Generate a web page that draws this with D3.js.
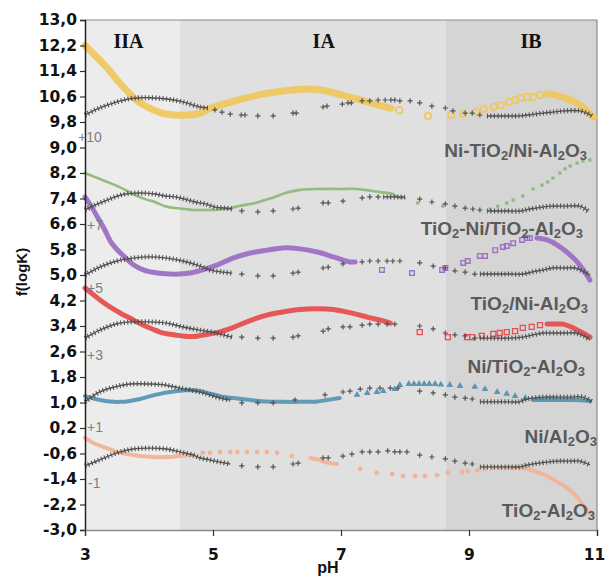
<!DOCTYPE html>
<html>
<head>
<meta charset="utf-8">
<script src="https://cdn.jsdelivr.net/npm/d3@7"></script>
<style>
  body { margin: 0; background: #fff; }
  svg { display: block; }
</style>
</head>
<body>
<svg id="chart" width="605" height="577"></svg>
<script>
// ---- axis ticks and zones ----
const xTicks = [3, 5, 7, 9, 11];
const yTicks = [-3.0, -2.2, -1.4, -0.6, 0.2, 1.0, 1.8, 2.6, 3.4, 4.2, 5.0, 5.8, 6.6, 7.4, 8.2, 9.0, 9.8, 10.6, 11.4, 12.2, 13.0];
const zoneNames = ["IIA", "IA", "IB"];
const zoneEdges = [3, 4.48, 8.64, 11];

// ---- sample names (digit after "_" is a subscript) and vertical shifts ----
const sampleNames = ["Ni-TiO_2/Ni-Al_2O_3", "TiO_2-Ni/TiO_2-Al_2O_3", "TiO_2/Ni-Al_2O_3", "Ni/TiO_2-Al_2O_3", "Ni/Al_2O_3", "TiO_2-Al_2O_3"];
const shiftLabels = ["+10", "+7", "+5", "+3", "+1", "-1"];

// ---- measured f(logK) vs pH : continuous runs and isolated points ----
// Ni-TiO2/Ni-Al2O3 (+10)
const s1Runs = [
  [[3.00,12.20],[3.10,12.00],[3.20,11.80],[3.30,11.59],[3.40,11.37],[3.50,11.12],[3.60,10.90],[3.70,10.68],[3.80,10.49],[3.90,10.36],[4.00,10.24],[4.20,10.08],[4.40,10.02],[4.60,10.02],[4.80,10.08],[4.95,10.22],[5.10,10.32],[5.30,10.44],[5.58,10.58],[5.84,10.70],[6.09,10.77],[6.36,10.83],[6.55,10.83],[6.75,10.78],[6.90,10.71],[7.14,10.58],[7.41,10.43],[7.60,10.32],[7.78,10.23]],
  [[10.22,10.68],[10.31,10.66],[10.42,10.60],[10.50,10.55],[10.58,10.49],[10.66,10.42],[10.73,10.33],[10.81,10.20],[10.89,10.04],[10.95,9.96]]
];
const s1Dots = [[7.91,10.17],[8.36,9.99],[8.72,10.02],[8.91,10.05],[9.11,10.11],[9.23,10.20],[9.39,10.27],[9.50,10.33],[9.63,10.43],[9.72,10.49],[9.81,10.55],[9.91,10.58],[10.00,10.58],[10.11,10.65]];
const s1FitRuns = [
  [[3.00,10.02],[3.23,10.24],[3.50,10.43],[3.70,10.53],[3.86,10.56],[4.02,10.56],[4.28,10.52],[4.53,10.43],[4.80,10.27],[4.92,10.24]],
  [[9.28,9.99],[9.50,9.99],[9.72,9.99],[9.84,10.00],[10.00,10.04],[10.16,10.08],[10.31,10.11],[10.50,10.15],[10.73,10.15],[10.85,10.07],[10.92,9.99]]
];
const s1FitDots = [[5.03,10.18],[5.14,10.11],[5.27,10.05],[5.44,10.02],[5.50,10.02],[5.70,9.99],[5.94,9.99],[6.25,10.08],[6.30,10.08],[6.72,10.27],[6.78,10.30],[7.02,10.36],[7.11,10.40],[7.16,10.40],[7.33,10.46],[7.45,10.46],[7.58,10.49],[7.69,10.49],[7.78,10.49],[7.84,10.49],[7.92,10.46],[8.08,10.46],[8.23,10.40],[8.42,10.30],[8.63,10.24],[8.75,10.15],[8.94,10.08],[9.05,10.08],[9.17,10.02]];

// TiO2-Ni/TiO2-Al2O3 (+7)
const s2Runs = [
  [[3.00,8.20],[3.16,8.07],[3.31,7.95],[3.47,7.82],[3.63,7.67],[3.78,7.51],[3.94,7.38],[4.09,7.29],[4.25,7.16],[4.41,7.10],[4.56,7.07],[4.72,7.04],[4.88,7.04],[5.03,7.04],[5.19,7.07],[5.34,7.13],[5.50,7.20],[5.66,7.26],[5.81,7.35],[5.97,7.45],[6.13,7.57],[6.36,7.67],[6.67,7.70],[7.00,7.70],[7.25,7.70],[7.45,7.65],[7.61,7.60],[7.81,7.54],[7.88,7.45],[8.00,7.42]]
];
const s2Dots = [[8.20,7.26],[8.59,7.16],[9.33,7.07],[9.45,7.16],[9.59,7.26],[9.69,7.35],[9.84,7.48],[10.00,7.70],[10.14,7.82],[10.23,7.92],[10.31,8.04],[10.42,8.20],[10.50,8.33],[10.58,8.42],[10.69,8.51],[10.78,8.58],[10.89,8.61]];
const s2FitRuns = [
  [[3.00,7.04],[3.16,7.20],[3.31,7.32],[3.47,7.45],[3.63,7.54],[3.78,7.57],[3.94,7.57],[4.09,7.54],[4.25,7.48],[4.41,7.45],[4.56,7.38],[4.72,7.29],[4.88,7.23],[5.03,7.13],[5.19,7.10],[5.30,7.07]],
  [[7.66,7.45],[7.72,7.45],[7.81,7.45],[7.92,7.45],[8.00,7.45]],
  [[9.28,7.01],[9.50,7.01],[9.80,7.01],[9.95,7.07],[10.14,7.13],[10.27,7.16],[10.50,7.16],[10.73,7.16],[10.86,7.01]]
];
const s2FitDots = [[5.45,7.01],[5.70,6.98],[5.94,7.01],[6.25,7.07],[6.33,7.10],[6.72,7.26],[6.80,7.26],[7.03,7.32],[7.33,7.42],[7.45,7.45],[7.58,7.45],[8.23,7.38],[8.42,7.29],[8.63,7.23],[8.78,7.16],[8.94,7.10],[9.06,7.07],[9.17,7.04]];

// TiO2/Ni-Al2O3 (+5)
const s3Runs = [
  [[3.00,7.45],[3.10,7.15],[3.20,6.80],[3.30,6.45],[3.40,6.05],[3.50,5.80],[3.60,5.60],[3.75,5.33],[3.91,5.16],[4.13,5.06],[4.33,5.03],[4.48,5.03],[4.64,5.06],[4.80,5.14],[5.06,5.31],[5.31,5.53],[5.58,5.69],[5.84,5.78],[6.09,5.85],[6.36,5.82],[6.63,5.72],[6.88,5.57],[7.14,5.41],[7.22,5.41]],
  [[10.06,6.16],[10.22,6.10],[10.38,5.94],[10.53,5.72],[10.69,5.41],[10.81,5.09],[10.89,4.84]]
];
const s3Dots = [[7.64,5.16],[8.11,5.06],[8.58,5.16],[8.63,5.22],[8.91,5.38],[8.98,5.44],[9.17,5.60],[9.25,5.60],[9.41,5.78],[9.53,5.88],[9.59,5.91],[9.69,6.00],[9.83,6.10],[9.91,6.16],[9.95,6.16]];
const s3FitRuns = [
  [[3.00,5.00],[3.23,5.25],[3.50,5.44],[3.75,5.53],[4.02,5.57],[4.28,5.53],[4.53,5.44],[4.80,5.28],[4.95,5.16],[5.16,5.09],[5.30,5.06]],
  [[9.17,5.03],[9.40,5.03],[9.64,5.03],[9.84,5.03],[10.00,5.10],[10.16,5.16],[10.30,5.22],[10.50,5.22],[10.66,5.22],[10.80,5.10],[10.89,5.00]]
];
const s3FitDots = [[5.45,5.03],[5.70,4.97],[5.94,4.97],[6.25,5.06],[6.33,5.09],[6.72,5.22],[6.80,5.25],[7.03,5.35],[7.33,5.41],[7.45,5.44],[7.58,5.44],[7.72,5.44],[7.81,5.44],[7.92,5.44],[8.23,5.38],[8.44,5.28],[8.63,5.22],[8.78,5.13],[8.94,5.09],[9.09,5.03]];

// Ni/TiO2-Al2O3 (+3)
const s4Runs = [
  [[3.00,4.59],[3.12,4.40],[3.23,4.22],[3.35,4.05],[3.47,3.90],[3.58,3.77],[3.70,3.65],[3.82,3.52],[3.94,3.40],[4.06,3.30],[4.17,3.21],[4.30,3.15],[4.41,3.12],[4.55,3.08],[4.70,3.07],[4.80,3.10],[5.06,3.19],[5.31,3.35],[5.58,3.57],[5.84,3.74],[6.09,3.84],[6.36,3.92],[6.63,3.94],[6.88,3.92],[7.14,3.82],[7.41,3.68],[7.66,3.56],[7.77,3.49]],
  [[10.22,3.46],[10.35,3.46],[10.47,3.46],[10.63,3.34],[10.78,3.18],[10.89,3.05]]
];
const s4Dots = [[8.23,3.21],[8.67,3.05],[8.97,3.05],[9.05,3.05],[9.20,3.09],[9.38,3.15],[9.48,3.18],[9.59,3.21],[9.72,3.24],[9.84,3.34],[9.98,3.37],[10.11,3.43]];
const s4FitRuns = [
  [[3.00,3.02],[3.23,3.27],[3.50,3.47],[3.75,3.53],[4.02,3.53],[4.28,3.49],[4.53,3.37],[4.80,3.27],[5.06,3.18],[5.16,3.12],[5.30,3.05]],
  [[9.17,3.02],[9.40,3.02],[9.64,3.02],[9.84,3.05],[10.00,3.12],[10.16,3.18],[10.31,3.18],[10.50,3.18],[10.66,3.18],[10.80,3.08],[10.89,2.96]]
];
const s4FitDots = [[5.45,3.05],[5.70,3.02],[5.94,3.02],[6.25,3.05],[6.33,3.09],[6.72,3.24],[6.80,3.31],[7.03,3.37],[7.14,3.37],[7.33,3.43],[7.45,3.46],[7.58,3.46],[7.72,3.46],[7.84,3.46],[8.23,3.40],[8.44,3.31],[8.63,3.18],[8.78,3.12],[8.94,3.09],[9.09,3.02]];

// Ni/Al2O3 (+1)
const s5Runs = [
  [[3.00,1.20],[3.12,1.13],[3.23,1.08],[3.39,1.03],[3.55,1.02],[3.70,1.05],[3.86,1.11],[4.02,1.20],[4.17,1.27],[4.33,1.33],[4.48,1.37],[4.64,1.39],[4.80,1.36],[4.95,1.28],[5.11,1.20],[5.31,1.14],[5.58,1.08],[5.84,1.03],[6.09,1.02],[6.36,1.02],[6.63,1.03],[6.78,1.08],[6.98,1.14]],
  [[10.00,1.08],[10.30,1.08],[10.60,1.08],[10.89,1.05]]
];
const s5Dots = [[7.25,1.24],[7.41,1.30],[7.56,1.33],[7.66,1.36],[7.84,1.42],[7.92,1.55],[8.06,1.58],[8.14,1.58],[8.22,1.58],[8.30,1.58],[8.38,1.58],[8.47,1.58],[8.56,1.56],[8.70,1.55],[8.86,1.52],[9.09,1.49],[9.25,1.42],[9.44,1.33],[9.59,1.27],[9.72,1.20],[9.88,1.14]];
const s5FitRuns = [
  [[3.00,1.02],[3.23,1.33],[3.47,1.49],[3.70,1.58],[4.02,1.58],[4.25,1.55],[4.48,1.45],[4.80,1.33],[4.95,1.24],[5.11,1.14],[5.27,1.08]],
  [[9.17,1.02],[9.40,1.02],[9.64,1.02],[9.78,1.02],[9.91,1.11],[10.16,1.17],[10.38,1.17],[10.58,1.17],[10.78,1.17],[10.92,1.02]]
];
const s5FitDots = [[5.45,0.99],[5.70,0.99],[5.94,0.99],[6.28,1.08],[6.75,1.24],[7.03,1.33],[7.14,1.36],[7.30,1.42],[7.45,1.45],[7.61,1.45],[7.77,1.45],[7.89,1.45],[8.23,1.36],[8.44,1.30],[8.63,1.24],[8.78,1.17],[8.94,1.14],[9.05,1.11]];

// TiO2-Al2O3 (-1)
const s6Runs = [
  [[3.00,-0.11],[3.13,-0.27],[3.34,-0.43],[3.50,-0.55],[3.66,-0.62],[3.86,-0.68],[4.06,-0.71],[4.28,-0.71],[4.48,-0.68],[4.69,-0.65]],
  [[6.52,-0.74],[6.59,-0.77],[6.67,-0.80],[6.75,-0.87],[6.94,-0.93]],
  [[9.48,-1.05],[9.64,-1.05],[9.80,-1.05],[9.91,-1.08],[10.06,-1.18],[10.22,-1.31],[10.38,-1.49],[10.53,-1.68],[10.69,-1.96],[10.78,-2.22],[10.94,-2.53]]
];
const s6Dots = [[4.84,-0.58],[4.95,-0.58],[5.11,-0.55],[5.27,-0.55],[5.38,-0.55],[5.53,-0.55],[5.69,-0.55],[5.84,-0.55],[6.00,-0.58],[6.23,-0.68],[7.30,-1.08],[7.56,-1.21],[7.80,-1.24],[7.97,-1.31],[8.16,-1.31],[8.31,-1.31],[8.50,-1.28],[8.67,-1.21],[8.89,-1.18],[8.98,-1.15],[9.13,-1.12],[9.25,-1.08],[9.38,-1.05]];
const s6FitRuns = [
  [[3.00,-0.99],[3.23,-0.80],[3.50,-0.58],[3.75,-0.46],[4.02,-0.43],[4.28,-0.46],[4.48,-0.55],[4.69,-0.65],[4.80,-0.74],[4.95,-0.80],[5.11,-0.87],[5.27,-0.93]],
  [[9.17,-1.02],[9.40,-1.02],[9.64,-1.02],[9.80,-1.02],[9.91,-0.96],[10.22,-0.87],[10.38,-0.84],[10.58,-0.84],[10.73,-0.84],[10.89,-0.96]]
];
const s6FitDots = [[5.45,-0.99],[5.70,-1.02],[5.94,-1.02],[6.25,-0.93],[6.33,-0.90],[6.72,-0.74],[6.80,-0.74],[7.03,-0.68],[7.17,-0.62],[7.33,-0.55],[7.45,-0.55],[7.58,-0.55],[7.73,-0.52],[7.84,-0.55],[7.92,-0.55],[8.03,-0.55],[8.23,-0.65],[8.42,-0.71],[8.63,-0.77],[8.78,-0.84],[8.94,-0.90],[9.05,-0.93]];

// ---- drawing ----
const svg = d3.select("#chart");
const x = d3.scaleLinear().domain([3, 11]).range([85, 597]);
const y = d3.scaleLinear().domain([-3, 13]).range([530, 20]);

// zone backgrounds
const zoneFills = ["#ececec", "#e0e0e0", "#d5d5d5"];
svg.append("g").selectAll("rect").data(zoneNames).join("rect")
  .attr("x", (d, i) => x(zoneEdges[i]))
  .attr("y", y(13))
  .attr("width", (d, i) => x(zoneEdges[i + 1]) - x(zoneEdges[i]))
  .attr("height", y(-3) - y(13))
  .attr("fill", (d, i) => zoneFills[i]);

// frame on top and right
svg.append("path")
  .attr("d", `M${x(3)},${y(13)}H${x(11)}V${y(-3)}`)
  .attr("fill", "none").attr("stroke", "#8a8a8a").attr("stroke-width", 1.2);

// zone titles
const zoneLabelX = [3.68, 6.73, 9.97];
svg.append("g").selectAll("text").data(zoneNames).join("text")
  .attr("x", (d, i) => x(zoneLabelX[i]))
  .attr("y", 48)
  .attr("text-anchor", "middle")
  .attr("font-family", "'Liberation Serif', 'Times New Roman', serif")
  .attr("font-weight", "bold")
  .attr("font-size", 20)
  .attr("fill", "#111")
  .text(d => d);

const line = d3.line().x(d => x(d[0])).y(d => y(d[1])).curve(d3.curveCatmullRom.alpha(0.5));

const styles = [
  { color: "#efc75a", band: 7, opacity: 0.9, marker: "ring" },
  { color: "#8cba79", band: 2.6, opacity: 0.95, marker: "square" },
  { color: "#9d70c4", band: 5, opacity: 0.95, marker: "xmark" },
  { color: "#e64f4f", band: 5, opacity: 0.95, marker: "box" },
  { color: "#5b97b4", band: 4, opacity: 0.95, marker: "tri" },
  { color: "#f0b497", band: 4, opacity: 0.95, marker: "dot" }
];

const measuredRuns = [s1Runs, s2Runs, s3Runs, s4Runs, s5Runs, s6Runs];
const measuredDots = [s1Dots, s2Dots, s3Dots, s4Dots, s5Dots, s6Dots];
const fitRuns = [s1FitRuns, s2FitRuns, s3FitRuns, s4FitRuns, s5FitRuns, s6FitRuns];
const fitDots = [s1FitDots, s2FitDots, s3FitDots, s4FitDots, s5FitDots, s6FitDots];

function drawMarker(g, pts, st) {
  const c = st.color;
  const sel = g.selectAll(null).data(pts).join("path")
    .attr("transform", d => `translate(${x(d[0])},${y(d[1])})`);
  if (st.marker === "ring") {
    sel.attr("d", d3.symbol(d3.symbolCircle, 34)()).attr("fill", "none").attr("stroke", c).attr("stroke-width", 1.6);
  } else if (st.marker === "square") {
    sel.attr("d", "M-1.6,-1.6h3.2v3.2h-3.2z").attr("fill", c);
  } else if (st.marker === "xmark") {
    sel.attr("d", "M-2.3,-2.3h4.6v4.6h-4.6z").attr("fill", "none").attr("stroke", c).attr("stroke-width", 1.4);
  } else if (st.marker === "box") {
    sel.attr("d", "M-2.5,-2.5h5v5h-5z").attr("fill", "none").attr("stroke", c).attr("stroke-width", 1.3);
  } else if (st.marker === "tri") {
    sel.attr("d", d3.symbol(d3.symbolTriangle, 20)()).attr("fill", c);
  } else {
    sel.attr("d", d3.symbol(d3.symbolCircle, 18)()).attr("fill", c);
  }
}

// measured curves
measuredRuns.forEach((runs, i) => {
  const st = styles[i];
  const g = svg.append("g");
  runs.forEach(run => {
    g.append("path").datum(run).attr("d", line)
      .attr("fill", "none").attr("stroke", st.color)
      .attr("stroke-width", st.band).attr("stroke-linecap", "round")
      .attr("stroke-opacity", st.opacity);
  });
  drawMarker(g, measuredDots[i], st);
});

// model curves drawn as chains of "+" marks
const fitColor = "#525252";
fitRuns.forEach((runs, i) => {
  const g = svg.append("g");
  runs.forEach(run => {
    g.append("path").datum(run).attr("d", line)
      .attr("fill", "none").attr("stroke", fitColor).attr("stroke-width", 1.4);
    g.append("path").datum(run).attr("d", line)
      .attr("fill", "none").attr("stroke", fitColor).attr("stroke-width", 5)
      .attr("stroke-dasharray", "1.1,2.4");
  });
  g.selectAll(null).data(fitDots[i]).join("path")
    .attr("transform", d => `translate(${x(d[0])},${y(d[1])})`)
    .attr("d", "M-2.6,0H2.6M0,-2.6V2.6")
    .attr("stroke", fitColor).attr("stroke-width", 1.2).attr("fill", "none");
});

// axes
const tickFont = "'DejaVu Sans', Verdana, sans-serif";
const yAxis = svg.append("g").attr("transform", `translate(${x(3)},0)`)
  .call(d3.axisLeft(y).tickValues(yTicks).tickSize(5).tickPadding(3)
    .tickFormat(d => d.toFixed(1).replace(".", ",")));
yAxis.select(".domain").attr("stroke", "#222").attr("stroke-width", 1.5);
yAxis.selectAll(".tick line").attr("stroke", "#333").attr("stroke-width", 1.2);
yAxis.selectAll(".tick text")
  .attr("font-family", tickFont)
  .attr("font-weight", "bold").attr("font-size", 15.5).attr("fill", "#111");

const xAxis = svg.append("g").attr("transform", `translate(0,${y(-3)})`)
  .call(d3.axisBottom(x).tickValues(xTicks).tickSize(6).tickPadding(13).tickFormat(d3.format("d")));
xAxis.select(".domain").attr("stroke", "#8a8a8a").attr("stroke-width", 1.5);
xAxis.selectAll(".tick line").attr("stroke", "#333").attr("stroke-width", 1.2);
xAxis.selectAll(".tick text")
  .attr("font-family", tickFont)
  .attr("font-weight", "bold").attr("font-size", 15.5).attr("fill", "#111")
  .attr("dx", d => d === 11 ? -3 : 0);

// axis titles
svg.append("text")
  .attr("x", 328).attr("y", 573)
  .attr("text-anchor", "middle")
  .attr("font-family", "'Liberation Sans', Arial, sans-serif")
  .attr("font-weight", "bold").attr("font-size", 16).attr("fill", "#111")
  .text("pH");
svg.append("text")
  .attr("transform", "translate(27,272) rotate(-90)")
  .attr("text-anchor", "middle")
  .attr("font-family", "'Liberation Sans', Arial, sans-serif")
  .attr("font-weight", "bold").attr("font-size", 15).attr("fill", "#111")
  .text("f(logK)");

// vertical shift notes next to the axis
const shiftPos = [[-7, 142], [2, 230], [2, 293], [2, 360], [2, 432], [3, 488]];
svg.append("g").selectAll("text").data(shiftLabels).join("text")
  .attr("x", (d, i) => x(3) + shiftPos[i][0])
  .attr("y", (d, i) => shiftPos[i][1])
  .attr("font-family", "'Liberation Sans', Arial, sans-serif")
  .attr("font-size", 14).attr("fill", "#7f7f7f")
  .text(d => d);

// sample names with subscripts
const nameAnchor = [[587, 157], [583, 235], [588, 310], [585, 373], [597, 443], [595, 517]];
sampleNames.forEach((name, i) => {
  const t = svg.append("text")
    .attr("x", nameAnchor[i][0]).attr("y", nameAnchor[i][1])
    .attr("text-anchor", "end")
    .attr("font-family", "'Liberation Sans', Arial, sans-serif")
    .attr("font-weight", "bold").attr("font-size", 19).attr("fill", "#5a5a5a");
  let lowered = false;
  name.split(/(_\d)/).filter(s => s.length).forEach(part => {
    if (part[0] === "_") {
      t.append("tspan").attr("font-size", 13).attr("dy", lowered ? 0 : 3).text(part.slice(1));
      lowered = true;
    } else {
      t.append("tspan").attr("dy", lowered ? -3 : 0).text(part);
      lowered = false;
    }
  });
});
</script>
</body>
</html>
